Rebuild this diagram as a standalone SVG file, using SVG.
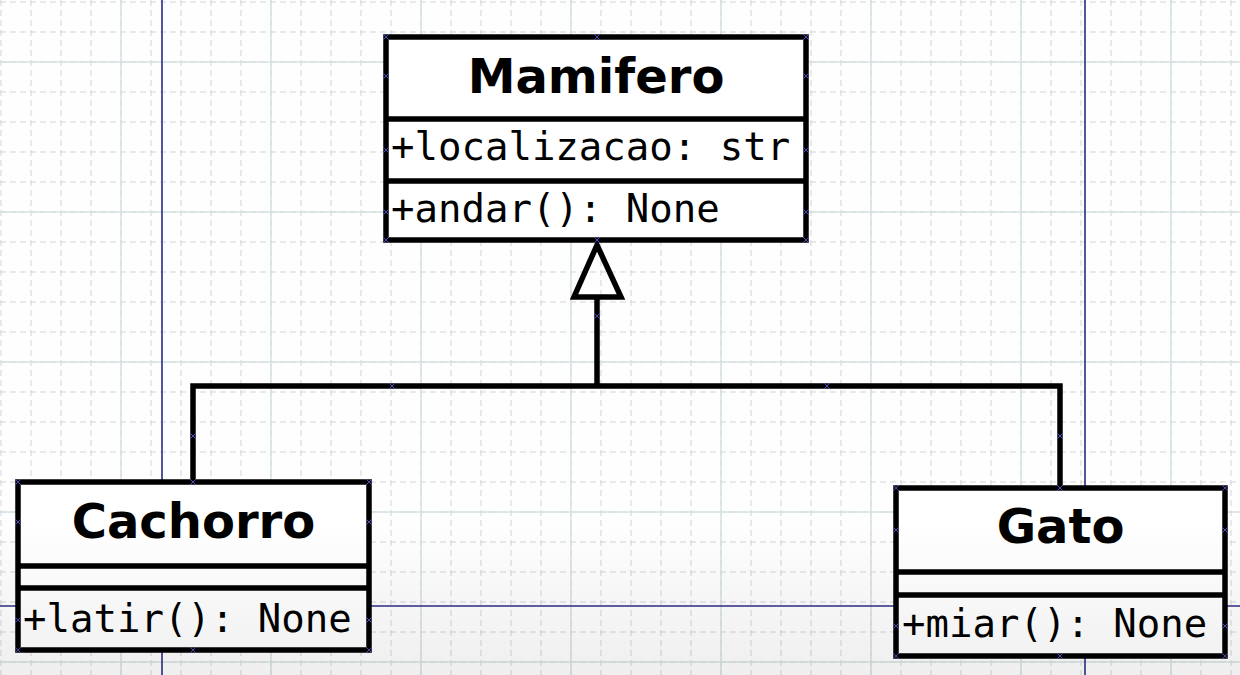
<svg xmlns="http://www.w3.org/2000/svg" width="1240" height="675" viewBox="0 0 1240 675">
<style>
.box{fill:#ffffff;stroke:#000;stroke-width:5.5}
.div{stroke:#000;stroke-width:5.5;fill:none}
.title{font-family:"DejaVu Sans","Liberation Sans",sans-serif;font-weight:bold;font-size:48px;fill:#000;text-anchor:middle}
.mem{font-family:"DejaVu Sans Mono","Liberation Mono",monospace;font-size:39px;fill:#000}
.conn{stroke:#000;stroke-width:5.5;fill:none;stroke-linejoin:miter}
.guide{stroke:#2b2b86;stroke-width:1.6;fill:none}
.pt{stroke:#4a4ab0;stroke-width:1;fill:none}
</style>
<defs>
<pattern id="gDash" x="0" y="0" width="30" height="30" patternUnits="userSpaceOnUse">
<path d="M1 0V30M0 2H30" stroke="#d4d4d4" stroke-width="1" stroke-dasharray="6 4" fill="none"/>
</pattern>
<pattern id="gSolid" x="0" y="0" width="150" height="150" patternUnits="userSpaceOnUse">
<path d="M121 0V150M0 62H150" stroke="#d6e2e2" stroke-width="1.5" fill="none"/>
</pattern>
<linearGradient id="shade" x1="0" y1="0" x2="0" y2="1">
<stop offset="0" stop-color="#000" stop-opacity="0"/>
<stop offset="1" stop-color="#000" stop-opacity="0.06"/>
</linearGradient>
<path id="m" d="M-3-3L3 3M-3 3L3-3"/>
</defs>
<rect width="1240" height="675" fill="#fefefe"/>
<rect width="1240" height="675" fill="url(#gDash)"/>
<rect width="1240" height="675" fill="url(#gSolid)"/>
<g id="guides">
<line class="guide" x1="162" y1="0" x2="162" y2="675"/>
<line class="guide" x1="1085" y1="0" x2="1085" y2="675"/>
<line class="guide" x1="0" y1="606" x2="1240" y2="606"/>
</g>
<g id="connectors">
<path class="conn" d="M597 297V386M193 484V386H1060V490"/>
<path class="conn" d="M597 245L574 297H621Z" fill="#fff"/>
</g>
<g id="Mamifero">
<rect class="box" x="386" y="37" width="420" height="203"/>
<path class="div" d="M386 119H806M386 181H806"/>
<text class="title" x="596" y="93">Mamifero</text>
<text class="mem" x="391" y="160">+localizacao: str</text>
<text class="mem" x="391" y="222">+andar(): None</text>
</g>
<g id="Cachorro">
<rect class="box" x="18" y="482" width="351" height="168"/>
<path class="div" d="M18 566H369M18 588H369"/>
<text class="title" x="193.5" y="538">Cachorro</text>
<text class="mem" x="23" y="632">+latir(): None</text>
</g>
<g id="Gato">
<rect class="box" x="896" y="488" width="329" height="168"/>
<path class="div" d="M896 572H1225M896 595H1225"/>
<text class="title" x="1060.5" y="543">Gato</text>
<text class="mem" x="902" y="637">+miar(): None</text>
</g>
<g id="points" class="pt">
<use href="#m" x="386" y="37"/><use href="#m" x="597" y="37"/><use href="#m" x="806" y="37"/>
<use href="#m" x="386" y="76"/><use href="#m" x="806" y="76"/>
<use href="#m" x="386" y="150"/><use href="#m" x="806" y="150"/>
<use href="#m" x="386" y="212"/><use href="#m" x="806" y="212"/>
<use href="#m" x="386" y="240"/><use href="#m" x="597" y="240"/><use href="#m" x="806" y="240"/>
<use href="#m" x="597" y="316"/><use href="#m" x="392" y="386"/><use href="#m" x="827" y="386"/>
<use href="#m" x="193" y="436"/><use href="#m" x="1060" y="436"/>
<use href="#m" x="18" y="482"/><use href="#m" x="193" y="482"/><use href="#m" x="369" y="482"/>
<use href="#m" x="18" y="522"/><use href="#m" x="369" y="522"/>
<use href="#m" x="18" y="620"/><use href="#m" x="369" y="620"/>
<use href="#m" x="18" y="650"/><use href="#m" x="193" y="650"/><use href="#m" x="369" y="650"/>
<use href="#m" x="896" y="488"/><use href="#m" x="1060" y="488"/><use href="#m" x="1225" y="488"/>
<use href="#m" x="896" y="530"/><use href="#m" x="1225" y="530"/>
<use href="#m" x="896" y="626"/><use href="#m" x="1225" y="626"/>
<use href="#m" x="896" y="656"/><use href="#m" x="1060" y="656"/><use href="#m" x="1225" y="656"/>
</g>
<rect x="0" y="520" width="1240" height="155" fill="url(#shade)"/>
</svg>
